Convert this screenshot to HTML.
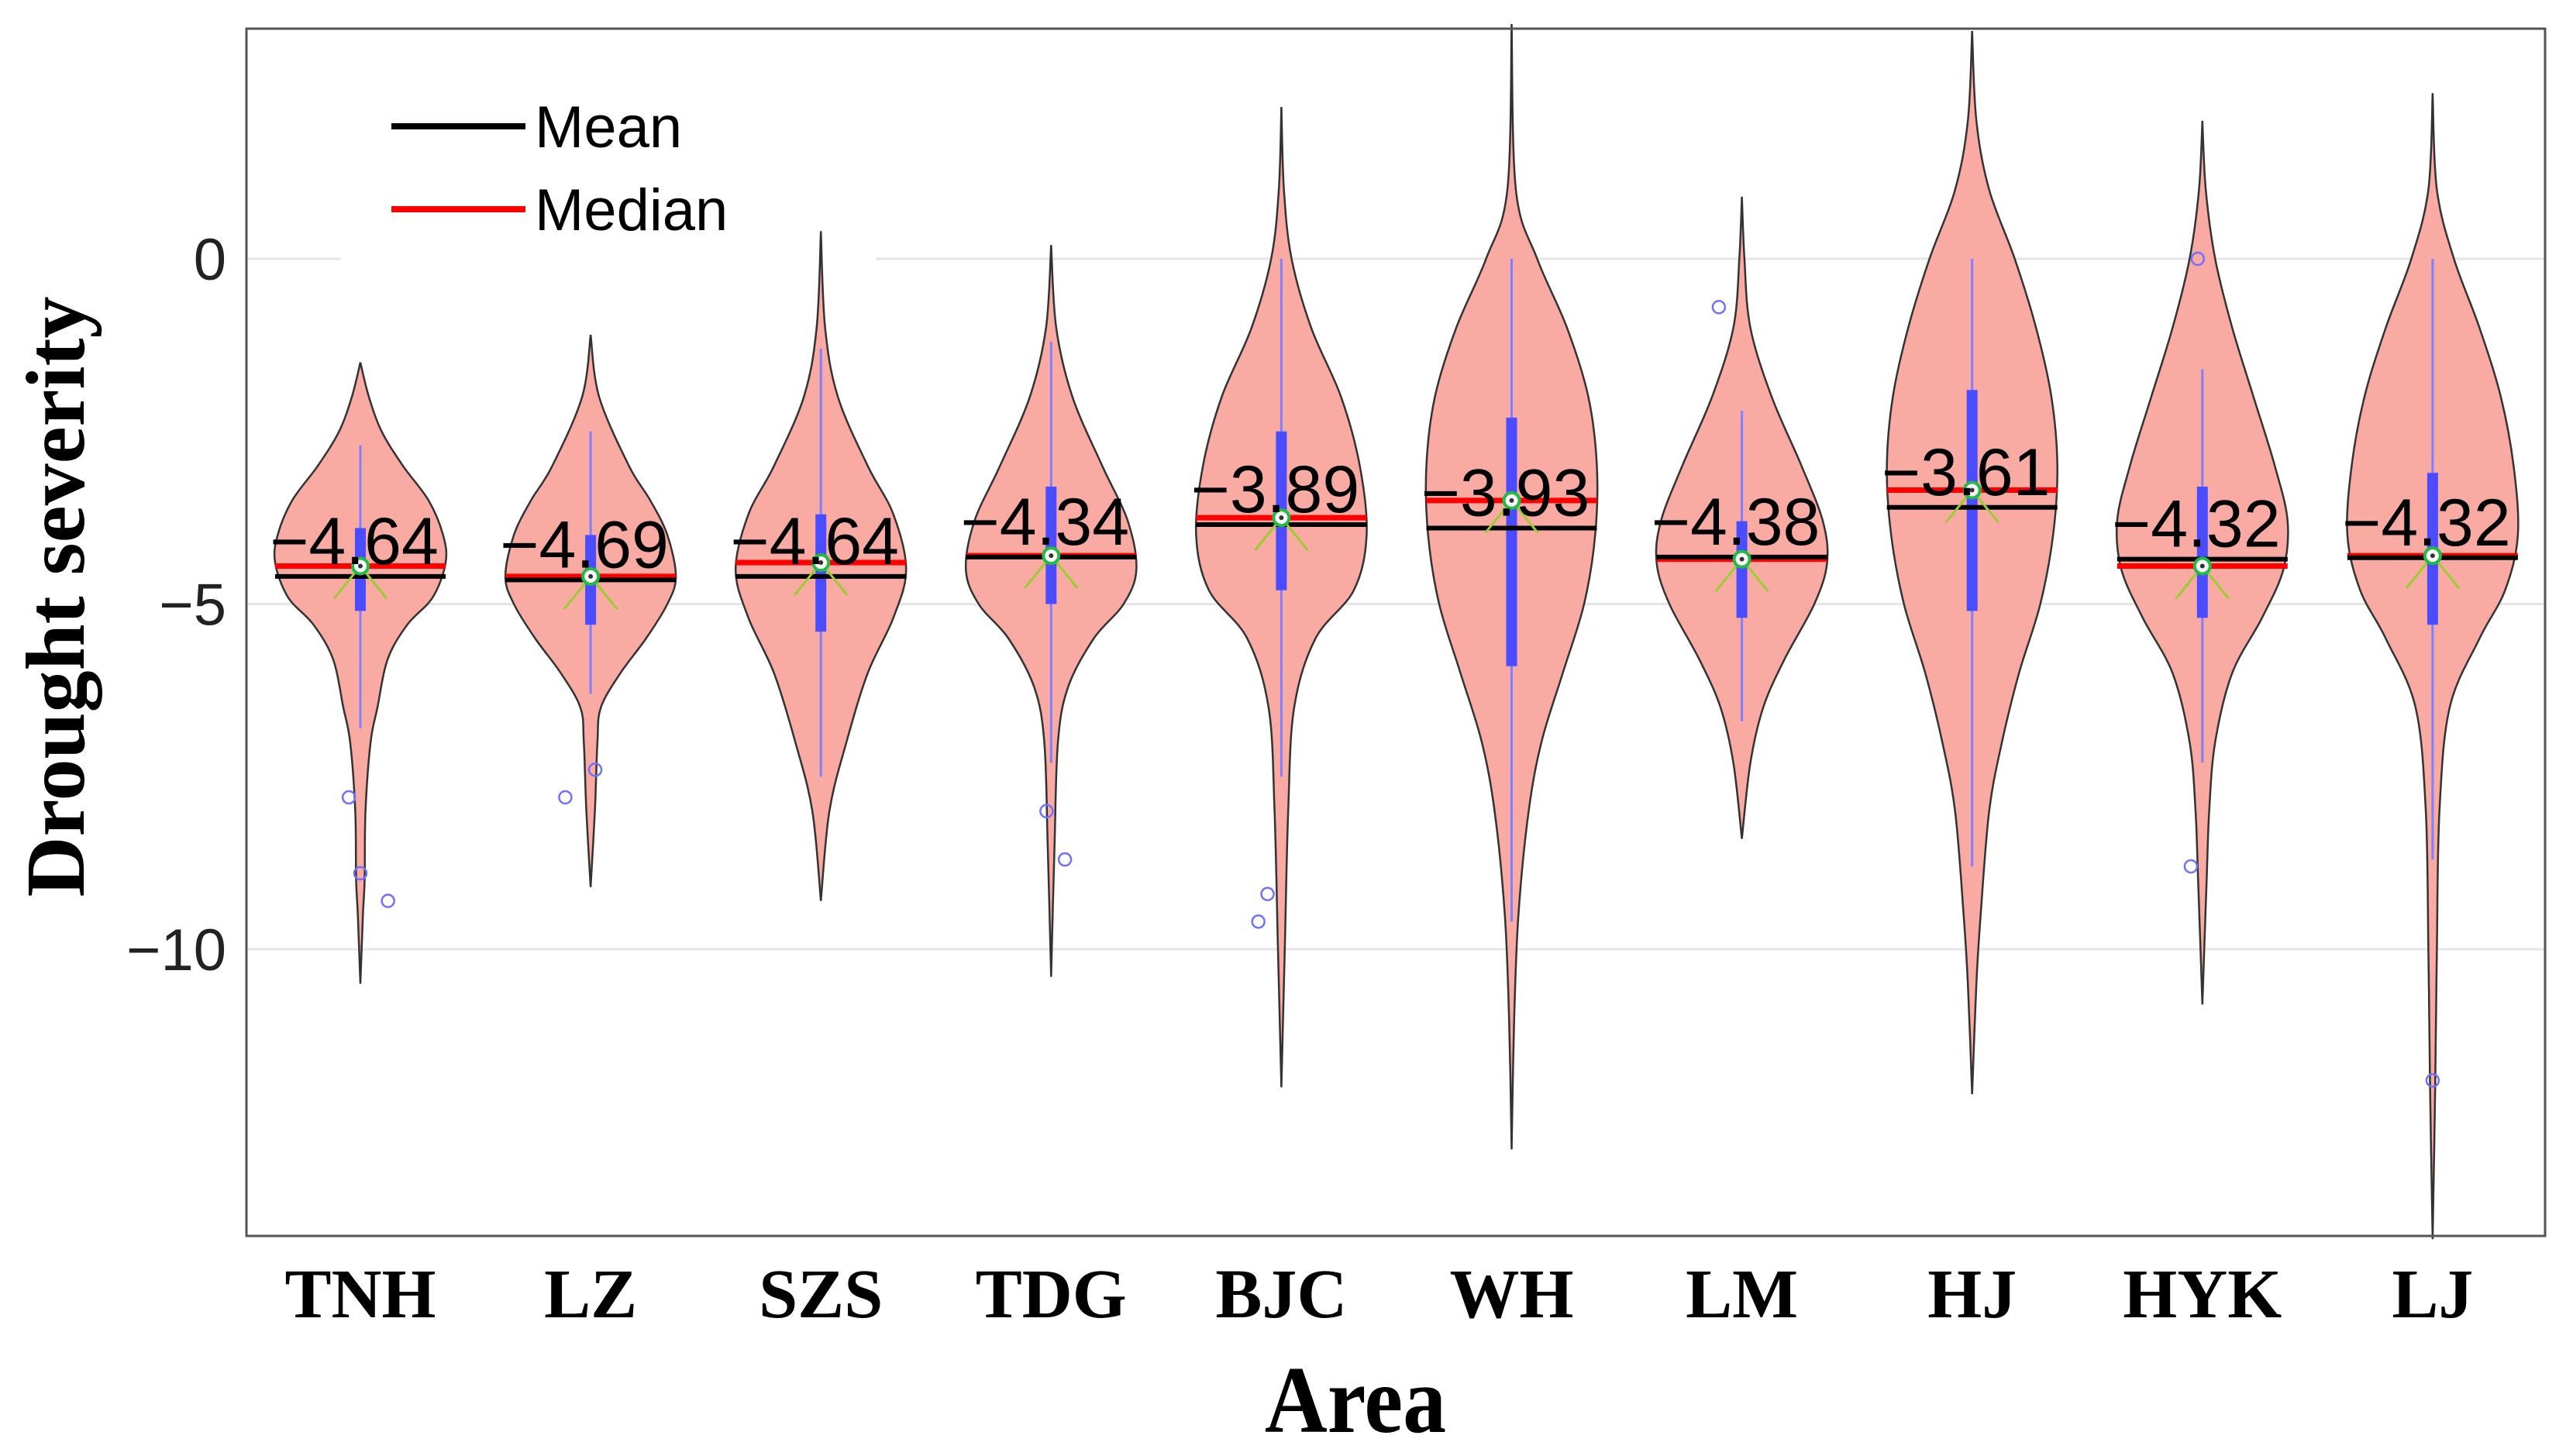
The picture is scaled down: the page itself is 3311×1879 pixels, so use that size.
<!DOCTYPE html>
<html><head><meta charset="utf-8">
<style>
html,body{margin:0;padding:0;background:#fff;}
svg{display:block;}
</style></head>
<body>
<svg id="chart" width="3311" height="1879" viewBox="0 0 3311 1879" xmlns="http://www.w3.org/2000/svg">
  <rect x="0" y="0" width="3311" height="1879" fill="#fff"/>
  <g id="grid"></g>
  <rect x="440" y="60" width="690" height="285" fill="#fff"/>
  <g id="violins"></g>
  <rect x="318" y="37" width="2966" height="1558" fill="none" stroke="#555" stroke-width="3"/>
  <g id="yticks"></g>
  <g id="xticks"></g>
  <text x="108" y="770" transform="rotate(-90 108 770)" text-anchor="middle" font-family="Liberation Serif, serif" font-weight="bold" font-size="108" fill="#000">Drought severity</text>
  <text x="1749" y="1848" transform="translate(0 -184.8) scale(1 1.1)" text-anchor="middle" font-family="Liberation Serif, serif" font-weight="bold" font-size="112" fill="#000">Area</text>
  <g>
    <line x1="505" y1="163" x2="678" y2="163" stroke="#000" stroke-width="8"/>
    <text x="690" y="190" font-family="Liberation Sans, sans-serif" font-size="76" fill="#000">Mean</text>
    <line x1="505" y1="270" x2="678" y2="270" stroke="#ff0000" stroke-width="8"/>
    <text x="690" y="297" font-family="Liberation Sans, sans-serif" font-size="76" fill="#000">Median</text>
  </g>
</svg>
<script>
const categories = ["TNH","LZ","SZS","TDG","BJC","WH","LM","HJ","HYK","LJ"];
const meanLabels = ["-4.64","-4.69","-4.64","-4.34","-3.89","-3.93","-4.38","-3.61","-4.32","-4.32"];
const means   = [-4.60,-4.65,-4.60,-4.32,-3.85,-3.90,-4.32,-3.60,-4.35,-4.33];
const medians = [-4.45,-4.60,-4.40,-4.30,-3.75,-3.50,-4.35,-3.35,-4.45,-4.30];
const q3s     = [-3.9,-4.0,-3.7,-3.3,-2.5,-2.3,-3.8,-1.9,-3.3,-3.1];
const q1s     = [-5.1,-5.3,-5.4,-5.0,-4.8,-5.9,-5.2,-5.1,-5.2,-5.3];
const whiskHi = [-2.7,-2.5,-1.3,-1.2,0,0,-2.2,0,-1.6,0];
const whiskLo = [-6.8,-6.3,-7.5,-7.3,-7.5,-9.6,-6.7,-8.8,-7.3,-8.7];
const outlierCat = [0,0,0,1,1,3,3,4,4,6,8,8,9];
const outlierVal = [-7.8,-8.9,-9.3,-7.8,-7.4,-8.0,-8.7,-9.2,-9.6,-0.7,0,-8.8,-11.9];
const outlierJit = [-0.05,0,0.12,-0.11,0.02,-0.02,0.06,-0.06,-0.1,-0.1,-0.02,-0.05,0];
// violin density profiles: [value, relative half-width]
const profiles = [
 [[-1.5,0],[-2,0.1],[-2.5,0.25],[-3,0.5],[-3.5,0.8],[-4,0.97],[-4.4,1],[-4.9,0.85],[-5.3,0.55],[-5.8,0.32],[-6.5,0.2],[-7,0.12],[-8,0.06],[-9,0.05],[-9.5,0.03],[-10.5,0]],
 [[-1.1,0],[-2,0.1],[-3,0.45],[-3.5,0.7],[-4,0.9],[-4.6,1],[-5,0.9],[-5.5,0.65],[-6,0.35],[-6.5,0.12],[-7,0.08],[-8,0.05],[-9.1,0]],
 [[0.4,0],[-1,0.05],[-2,0.2],[-3,0.55],[-3.7,0.85],[-4.5,1],[-5.2,0.85],[-6,0.55],[-7,0.3],[-8,0.1],[-9.3,0]],
 [[0.2,0],[-1,0.06],[-2,0.25],[-3,0.6],[-3.8,0.9],[-4.5,1],[-5,0.85],[-5.5,0.5],[-6.2,0.2],[-7,0.08],[-8.5,0.04],[-10.4,0]],
 [[2.2,0],[1,0.03],[0,0.12],[-1,0.35],[-2,0.7],[-3,0.92],[-4,1],[-4.8,0.85],[-5.5,0.4],[-6.5,0.15],[-8,0.08],[-10,0.04],[-12,0]],
 [[3.4,0],[1,0.05],[0,0.3],[-1,0.65],[-2,0.9],[-3,1],[-4,0.98],[-5,0.85],[-6,0.6],[-7,0.35],[-8,0.2],[-9.5,0.08],[-11,0.03],[-12.9,0]],
 [[0.9,0],[0,0.03],[-1,0.1],[-2,0.35],[-3,0.7],[-3.8,0.95],[-4.4,1],[-5,0.85],[-5.8,0.5],[-6.5,0.25],[-7.3,0.1],[-8.4,0]],
 [[3.3,0],[2,0.05],[1,0.2],[0,0.5],[-1,0.75],[-2,0.93],[-3,1],[-4,0.95],[-5,0.8],[-6,0.55],[-7,0.35],[-8,0.2],[-9.5,0.1],[-10.5,0.05],[-12.1,0]],
 [[2.0,0],[1,0.04],[0,0.15],[-1,0.35],[-2,0.6],[-3,0.85],[-3.8,1],[-4.5,0.95],[-5.2,0.7],[-6,0.35],[-7,0.15],[-8,0.08],[-9,0.05],[-10.8,0]],
 [[2.4,0],[1,0.05],[0,0.25],[-1,0.55],[-2,0.8],[-3,0.95],[-4,1],[-4.8,0.85],[-5.5,0.55],[-6.5,0.2],[-8,0.08],[-10,0.05],[-12,0.03],[-14.2,0]]
];
const yTickVals = [0,-5,-10];
const yTickLabels = ["0","\u22125","\u221210"];

const NS = "http://www.w3.org/2000/svg";
const X0 = 465, STEP = 297.1, HALF = 110;
function xPos(i){ return X0 + i*STEP; }
function yPos(v){ return 334 - v*89.1; }
function mk(tag, attrs, parent){
  const e = document.createElementNS(NS, tag);
  for (const k in attrs) e.setAttribute(k, attrs[k]);
  parent.appendChild(e); return e;
}
const grid = document.getElementById('grid');
const yt = document.getElementById('yticks');
yTickVals.forEach((v,i)=>{
  const l = mk('line',{x1:320,x2:3282,y1:yPos(v),y2:yPos(v),stroke:'#e6e6e6','stroke-width':3},grid);
  
  
  const t = mk('text',{x:292,y:yPos(v)+27,'text-anchor':'end','font-family':'Liberation Sans, sans-serif','font-size':76,fill:'#222'},yt);
  t.textContent = yTickLabels[i];
  
  
});
const xt = document.getElementById('xticks');
categories.forEach((c,i)=>{
  const t = mk('text',{x:xPos(i),y:1700,'text-anchor':'middle','font-family':'Liberation Serif, serif','font-weight':'bold','font-size':90,fill:'#000'},xt);
  t.textContent = c;
  
  
});

function smoothPath(pts){
  let d = "";
  for (let i=0;i<pts.length-1;i++){
    const p0 = pts[Math.max(0,i-1)], p1 = pts[i], p2 = pts[i+1], p3 = pts[Math.min(pts.length-1,i+2)];
    const c1x = p1[0] + (p2[0]-p0[0])/6, c1y = p1[1] + (p2[1]-p0[1])/6;
    const c2x = p2[0] - (p3[0]-p1[0])/6, c2y = p2[1] - (p3[1]-p1[1])/6;
    d += ` C${c1x.toFixed(1)},${c1y.toFixed(1)} ${c2x.toFixed(1)},${c2y.toFixed(1)} ${p2[0].toFixed(1)},${p2[1].toFixed(1)}`;
  }
  return d;
}
const vg = document.getElementById('violins');
categories.forEach((c,i)=>{
  const g = mk('g',{},vg);
  
  
  const cx = xPos(i);
  const prof = profiles[i];
  const right = prof.map(p=>[cx + p[1]*HALF, yPos(p[0])]);
  const left = prof.slice().reverse().map(p=>[cx - p[1]*HALF, yPos(p[0])]);
  let d = `M${right[0][0]},${right[0][1]}` + smoothPath(right) + ` L${left[0][0]},${left[0][1]}` + smoothPath(left) + " Z";
  const body = mk('path',{d:d,fill:'#f8aaa3',stroke:'#333','stroke-width':2.5},g);
  
  
  const wl = mk('line',{x1:cx,x2:cx,y1:yPos(whiskHi[i]),y2:yPos(whiskLo[i]),stroke:'#8080ff','stroke-width':3},g);
  
  
  const bx = mk('rect',{x:cx-7,width:14,y:yPos(q3s[i]),height:yPos(q1s[i])-yPos(q3s[i]),fill:'#4b4bff'},g);
  
  
  const md = mk('line',{x1:cx-HALF,x2:cx+HALF,y1:yPos(medians[i]),y2:yPos(medians[i]),stroke:'#ff0000','stroke-width':7},g);
  
  
  const mn = mk('line',{x1:cx-HALF,x2:cx+HALF,y1:yPos(means[i]),y2:yPos(means[i]),stroke:'#000','stroke-width':6},g);
  
  
  const my = yPos(medians[i]);
  const v1 = mk('polyline',{points:`${cx-34},${my+42} ${cx},${my} ${cx+34},${my+42}`,fill:'none',stroke:'#9acd32','stroke-width':3},g);
  
  
  const ci = mk('circle',{cx:cx,cy:my,r:10,fill:'#fff',stroke:'#22bb44','stroke-width':4},g);
  
  
  const dot = mk('circle',{cx:cx,cy:my,r:3,fill:'#333'},g);
  
  
  const t = mk('text',{x:cx-8,y:yPos(means[i])-16,'text-anchor':'middle','font-family':'Liberation Sans, sans-serif','font-size':86,fill:'#000'},g);
  t.textContent = meanLabels[i].replace('-','\u2212');
  
  
});
outlierVal.forEach((v,k)=>{
  const o = mk('circle',{cx:xPos(outlierCat[k]+outlierJit[k]),cy:yPos(v),r:8,fill:'none',stroke:'#7070ff','stroke-width':2.5},vg);
  
  
});
</script>
</body></html>
